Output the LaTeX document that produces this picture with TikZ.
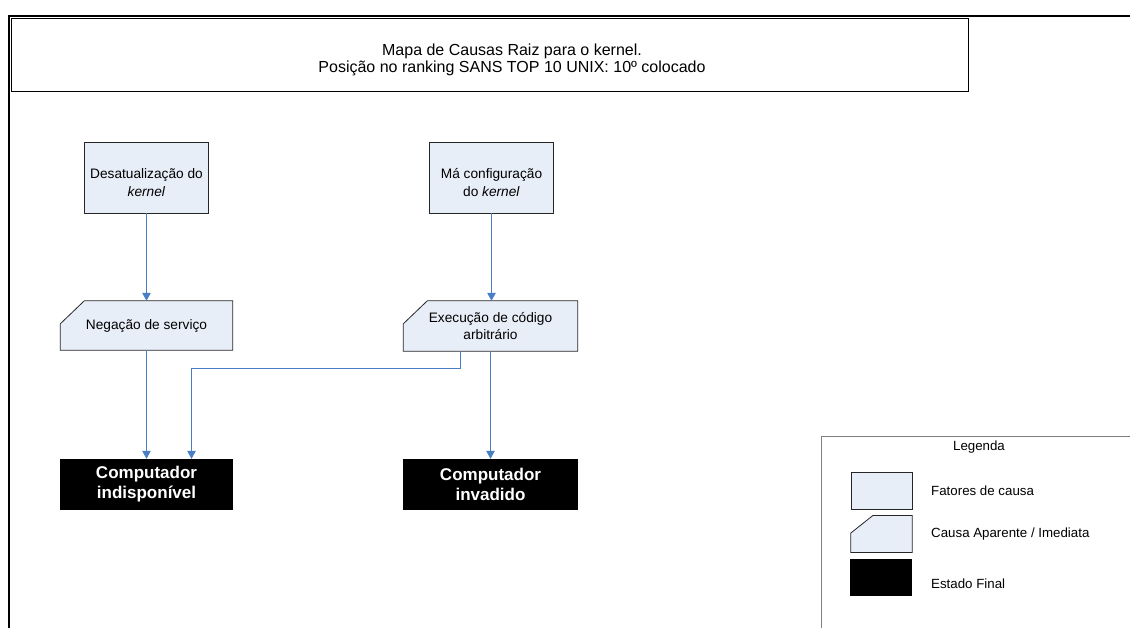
\documentclass[tikz,border=0pt]{standalone}
\usepackage{fontspec}
\setmainfont{Liberation Sans}
\usetikzlibrary{backgrounds,arrows.meta}
\definecolor{boxfill}{RGB}{232,238,247}
\definecolor{linkblue}{RGB}{74,126,196}
\definecolor{legendgray}{RGB}{128,128,128}
\newcommand{\lowstrut}{\rule{0pt}{20pt}}
\begin{document}
\begin{tikzpicture}[x=1pt,y=-1pt,
  causebox/.style={draw=black!85, fill=boxfill, line width=0.8pt, align=center,
    font=\fontsize{13.7}{18.7}\selectfont, inner sep=0pt},
  apparent/.style={align=center, font=\fontsize{13.7}{17.6}\selectfont, inner sep=0pt},
  finalbox/.style={fill=black, text=white, align=center,
    font=\fontsize{17}{20}\selectfont\bfseries, inner sep=0pt},
  link/.style={draw=linkblue, line width=1pt, -{Triangle[length=8pt,width=8.5pt]}},
  legtext/.style={anchor=west, font=\fontsize{13.3}{16}\selectfont, inner sep=0pt},
  chamfer/.style={draw=black!85, fill=boxfill, line width=0.8pt}
]
\useasboundingbox (0,0) rectangle (1130,628);

% outer frame
\draw[line width=2pt] (9,640) -- (9,15.7) -- (1140,15.7);

% title
\node[draw=black, line width=1pt, minimum width=957pt, minimum height=73pt, inner sep=0pt] (title) at (489.5,55.5) {};
\node[align=center, font=\fontsize{16}{17}\selectfont, inner sep=0pt] (titletext) at (512,60)
  {Mapa de Causas Raiz para o kernel.\\Posição no ranking SANS TOP 10 UNIX: 10º colocado};

% cause factors
\node[causebox, minimum width=124pt, minimum height=71pt] (d1) at (146.5,177.5)
  {\lowstrut Desatualização do\\\textit{kernel}};
\node[causebox, minimum width=124pt, minimum height=71pt] (d2) at (491.5,177.5)
  {\lowstrut Má configuração\\do \textit{kernel}};

% apparent causes
\node[apparent, minimum width=172pt, minimum height=49pt] (neg) at (146.5,325.5) {Negação de serviço};
\node[apparent, minimum width=174pt, minimum height=50pt] (exe) at (490.5,326) {Execução de código\\arbitrário};
\begin{scope}[on background layer]
  \draw[chamfer] (neg.south west) -- (neg.south east) -- (neg.north east)
    -- ([xshift=24pt]neg.north west) -- ([yshift=-23pt]neg.north west) -- cycle;
  \draw[chamfer] (exe.south west) -- (exe.south east) -- (exe.north east)
    -- ([xshift=24pt]exe.north west) -- ([yshift=-23pt]exe.north west) -- cycle;
\end{scope}

% final states
\node[finalbox, minimum width=173pt, minimum height=51pt] (ci) at (146.5,484.5) {Computador\\indisponível};
\node[finalbox, minimum width=175pt, minimum height=51pt] (inv) at (490.5,484.5) {Computador\\invadido};

% connectors
\draw[link] (d1.south) -- (d1.south |- neg.north);
\draw[link] (d2.south) -- (d2.south |- exe.north);
\draw[link] (neg.south) -- (neg.south |- ci.north);
\draw[link] (exe.south) -- (exe.south |- inv.north);
\draw[link] ([xshift=-30pt]exe.south) -- ++(0,17.5) -| ([xshift=45pt]ci.north);

% legend
\draw[draw=legendgray, line width=1pt] (821,436) rectangle (1140,640);
\node[font=\fontsize{13.3}{16}\selectfont, inner sep=0pt] (legtitle) at (979,447) {Legenda};
\node[draw=black!85, fill=boxfill, line width=0.8pt, minimum width=61pt, minimum height=37pt, inner sep=0pt] (lf) at (881.5,491) {};
\node[minimum width=61pt, minimum height=36.5pt, inner sep=0pt] (la) at (881.5,534) {};
\begin{scope}[on background layer]
  \draw[chamfer] (la.south west) -- (la.south east) -- (la.north east)
    -- ([xshift=22pt]la.north west) -- ([yshift=-17.5pt]la.north west) -- cycle;
\end{scope}
\node[fill=black, minimum width=62pt, minimum height=37pt, inner sep=0pt] (le) at (881,577.5) {};
\node[legtext] (lft) at (931,491) {Fatores de causa};
\node[legtext] (lat) at (931,534.3) {Causa Aparente / Imediata};
\node[legtext] (let) at (931,583.3) {Estado Final};
\end{tikzpicture}
\end{document}
